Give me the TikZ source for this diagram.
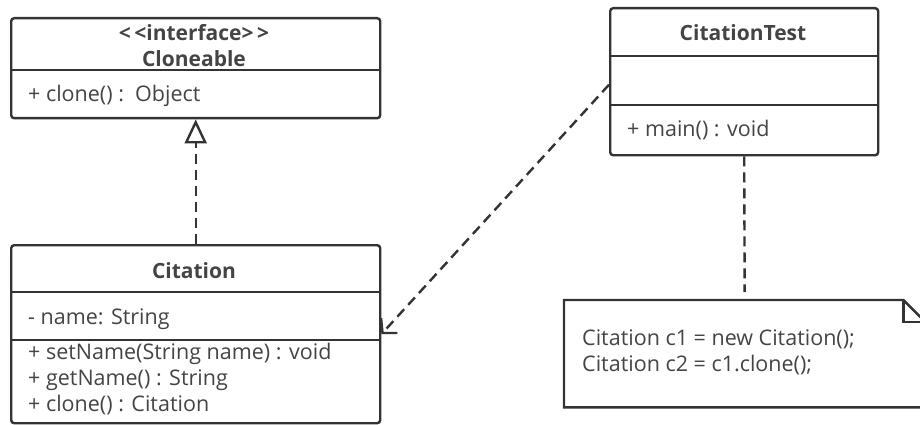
\documentclass[tikz,border=0pt]{standalone}
\usepackage{fontspec}
\setmainfont{Open Sans}
\usetikzlibrary{positioning,arrows.meta}
\definecolor{umlline}{RGB}{51,51,51}
\definecolor{umltext}{RGB}{68,68,68}
\begin{document}
\begin{tikzpicture}[x=1pt, y=-1pt, font=\fontsize{21.5}{26}\selectfont,
  cls/.style = {draw=umlline, line width=2.4pt, rounded corners=3pt, anchor=north west, inner sep=0pt},
  title/.style = {text=umltext, font=\fontsize{21}{26}\selectfont\bfseries, inner sep=0pt},
  member/.style = {text=umltext, anchor=west, align=left, inner sep=0pt},
  part/.style = {draw=umlline, line width=1.8pt},
  dep/.style = {draw=umlline, line width=2.4pt, dash pattern=on 10pt off 6pt}]
\useasboundingbox (0,0) rectangle (920,425);

% interface
\node[cls, minimum width=369pt, minimum height=100pt] (clone) at (10,17) {};
\draw[part] ([yshift=-53pt]clone.north west) -- ([yshift=-53pt]clone.north east);
\node[title] (cloneStereo) at (194,33) {<\,<interface>\,>};
\node[title] (cloneName) at (194,59) {Cloneable};
\node[member] (cloneOp) at (28,96) {+ clone() :\ \ Object};

% prototype
\node[cls, minimum width=369pt, minimum height=178pt] (citation) at (10,244) {};
\draw[part] ([yshift=-48pt]citation.north west) -- ([yshift=-48pt]citation.north east);
\draw[part] ([yshift=-96pt]citation.north west) -- ([yshift=-96pt]citation.north east);
\node[title] (citationName) at (194,271) {Citation};
\node[member] (citationAttr) at (28,319) {- name: String};
\node[member, anchor=north west] (citationOps) at (28,343) {+ setName(String name) : void\\+ getName() : String\\+ clone() : Citation};

% client
\node[cls, minimum width=268pt, minimum height=147pt] (test) at (609,7) {};
\draw[part] ([yshift=-49pt]test.north west) -- ([yshift=-49pt]test.north east);
\draw[part] ([yshift=-98pt]test.north west) -- ([yshift=-98pt]test.north east);
\node[title] (testName) at (743,33) {CitationTest};
\node[member] (testOp) at (627,130) {+ main() : void};

% note
\node[anchor=north west, minimum width=361pt, minimum height=107pt, inner sep=0pt] (note) at (564,300) {};
\draw[umlline, line width=2.4pt] (note.north west) -- ([xshift=-22pt]note.north east) -- ([yshift=-22pt]note.north east)
  -- (note.south east) -- (note.south west) -- cycle;
\draw[umlline, line width=2.4pt] ([xshift=-22pt]note.north east) |- ([yshift=-22pt]note.north east);
\node[member, anchor=north west] (noteText) at (582,330) {Citation c1 = new Citation();\\Citation c2 = c1.clone();};

\draw[dep, -{Triangle[open, length=24pt, width=22pt]}] (citation.north) -- (clone.south);
\draw[dep, -{Straight Barb[length=10pt, width=22pt]}] ([yshift=-3pt]test.west) -- (citation.east);
\draw[dep, shorten >=8pt] (test.south) -- (note.north);
\end{tikzpicture}
\end{document}
